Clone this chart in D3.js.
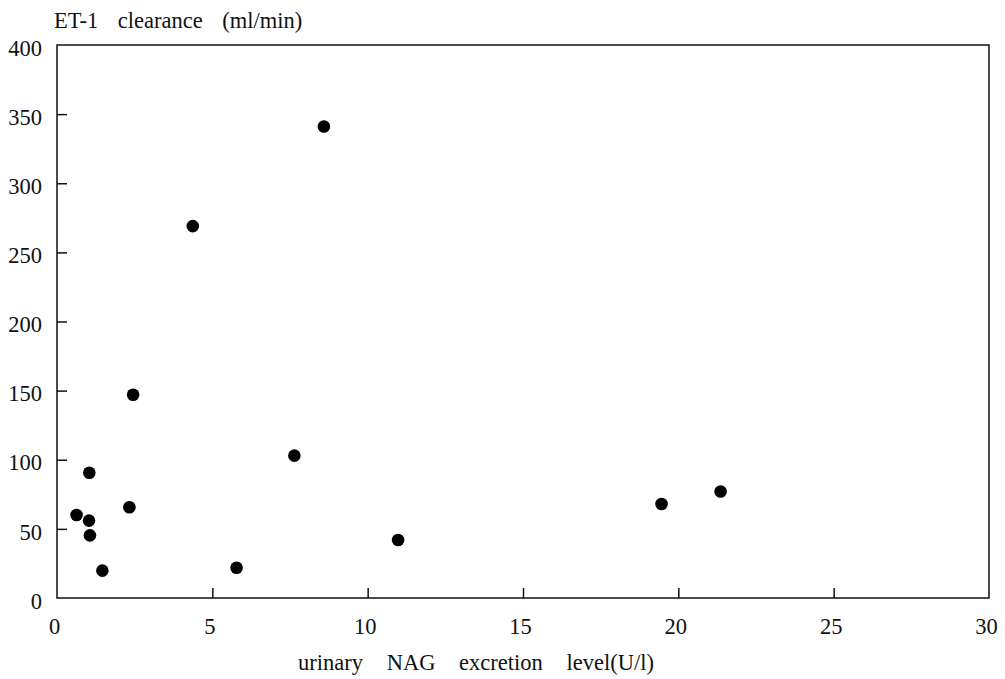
<!DOCTYPE html>
<html><head><meta charset="utf-8">
<script src="https://cdn.jsdelivr.net/npm/d3@7/dist/d3.min.js"></script>
<style>body{margin:0;background:#fff}svg text{font-family:"Liberation Serif","Times New Roman",serif;fill:#111}</style>
</head><body><svg id="c" width="1005" height="679"></svg>
<script>
const nagLevel = [0.63, 1.04, 1.03, 1.06, 1.46, 2.33, 2.45, 4.37, 5.78, 7.64, 8.59, 10.98, 19.46, 21.36];
const et1Clearance = [60, 90.6, 56, 45.3, 19.8, 65.6, 147, 269, 21.9, 103, 341, 42, 68, 77];
const xTicks = [0, 5, 10, 15, 20, 25, 30];
const yTicks = [0, 50, 100, 150, 200, 250, 300, 350, 400];
const yTitle = "ET-1 clearance (ml/min)";
const xTitle = "urinary NAG excretion level(U/l)";

const svg = d3.select("#c");
const L = 57, R = 989, T = 45, B = 598;
const x = d3.scaleLinear().domain([0, 30]).range([L, R]);
const y = d3.scaleLinear().domain([0, 400]).range([B, T]);

svg.append("rect").attr("x", L).attr("y", T).attr("width", R - L).attr("height", B - T)
  .attr("fill", "none").attr("stroke", "#111").attr("stroke-width", 1.5);

const gx = svg.append("g").attr("transform", `translate(0,${B})`)
  .call(d3.axisBottom(x).tickValues(xTicks).tickSize(-10).tickPadding(20).tickFormat(d3.format("d")));
gx.select(".domain").remove();
gx.selectAll(".tick line").attr("stroke", "#111").attr("stroke-width", 1.5)
  .filter(d => d === 0 || d === 30).remove();
gx.selectAll(".tick text").attr("font-size", 22.5).attr("dy", "0.71em").attr("dx", -3);

const gy = svg.append("g").attr("transform", `translate(${L},0)`)
  .call(d3.axisLeft(y).tickValues(yTicks).tickSize(-10).tickPadding(15).tickFormat(d3.format("d")));
gy.select(".domain").remove();
gy.selectAll(".tick line").attr("stroke", "#111").attr("stroke-width", 1.5)
  .filter(d => d === 0 || d === 400).remove();
gy.selectAll(".tick text").attr("font-size", 22.5).attr("dy", "0.45em");

svg.append("text").attr("x", 54).attr("y", 28).attr("font-size", 22.5)
  .attr("word-spacing", 14).text(yTitle);
svg.append("text").attr("x", 476).attr("y", 670).attr("text-anchor", "middle").attr("font-size", 22.5)
  .attr("word-spacing", 18).text(xTitle);

svg.append("g").selectAll("circle").data(nagLevel.map((v, i) => [v, et1Clearance[i]]))
  .join("circle").attr("cx", d => x(d[0])).attr("cy", d => y(d[1])).attr("r", 6.3).attr("fill", "#000");
</script></body></html>
